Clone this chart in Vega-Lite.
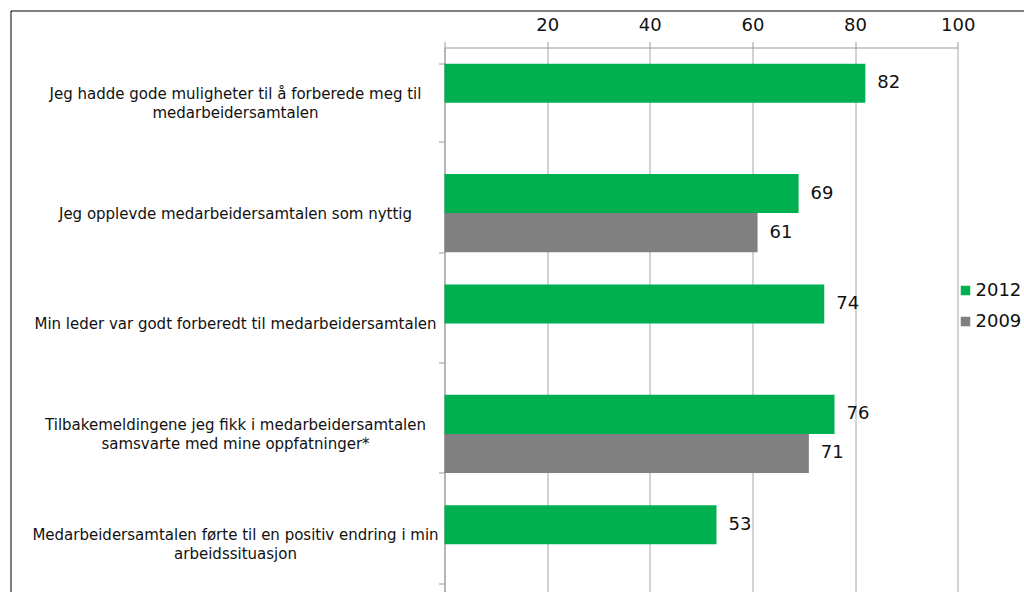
{
  "$schema": "https://vega.github.io/schema/vega-lite/v6.json",
  "width": 1013.5,
  "height": 581.5,
  "autosize": {"type": "none"},
  "padding": {"left": 10.5, "top": 10.5, "right": 0, "bottom": 0},
  "background": "white",
  "config": {
    "view": {"stroke": "#000000", "strokeWidth": 1, "strokeDash": [1013.5, 1595, 581.5]},
    "font": "DejaVu Sans"
  },
  "data": {
    "values": [
      {"question": "Jeg hadde gode muligheter til å forberede meg til|medarbeidersamtalen", "year": "2012", "value": 82},
      {"question": "Jeg opplevde medarbeidersamtalen som nyttig", "year": "2012", "value": 69},
      {"question": "Jeg opplevde medarbeidersamtalen som nyttig", "year": "2009", "value": 61},
      {"question": "Min leder var godt forberedt til medarbeidersamtalen", "year": "2012", "value": 74},
      {"question": "Tilbakemeldingene jeg fikk i medarbeidersamtalen|samsvarte med mine oppfatninger*", "year": "2012", "value": 76},
      {"question": "Tilbakemeldingene jeg fikk i medarbeidersamtalen|samsvarte med mine oppfatninger*", "year": "2009", "value": 71},
      {"question": "Medarbeidersamtalen førte til en positiv endring i min|arbeidssituasjon", "year": "2012", "value": 53}
    ]
  },
  "encoding": {
    "y": {
      "field": "question",
      "type": "nominal",
      "sort": null,
      "scale": {"range": [37, 589], "paddingInner": 0.293, "paddingOuter": 0.1465},
      "axis": {
        "title": null,
        "orient": "left",
        "offset": -434,
        "domainColor": "#9a9a9a",
        "tickColor": "#9a9a9a",
        "tickSize": 6,
        "tickBand": "extent",
        "grid": false,
        "labelAlign": "center",
        "labelBaseline": "middle",
        "labelPadding": 203.5,
        "labelOffset": -9.5,
        "labelFont": "DejaVu Sans",
        "labelFontSize": 15,
        "labelColor": "#111111",
        "labelLineHeight": 9.5,
        "labelLimit": 0,
        "labelExpr": "indexof(datum.label, '|') >= 0 ? [split(datum.label, '|')[0], '\u200b', split(datum.label, '|')[1]] : ['', datum.label]"
      }
    },
    "yOffset": {
      "field": "year",
      "type": "nominal",
      "scale": {"domain": ["2012", "2009"], "paddingInner": 0, "paddingOuter": 0}
    },
    "x": {
      "field": "value",
      "type": "quantitative",
      "scale": {"domain": [0, 100], "range": [434, 947.2], "nice": false},
      "axis": {
        "title": null,
        "orient": "top",
        "offset": -37,
        "values": [0, 20, 40, 60, 80, 100],
        "labelExpr": "datum.value == 0 ? '' : datum.label",
        "labelFlush": false,
        "domainColor": "#9a9a9a",
        "tickColor": "#9a9a9a",
        "gridColor": "#a6a6a6",
        "grid": true,
        "tickSize": 6,
        "labelPadding": 11.5,
        "labelBaseline": "alphabetic",
        "labelFont": "DejaVu Sans",
        "labelFontSize": 18,
        "labelColor": "#111111"
      }
    }
  },
  "layer": [
    {
      "mark": {"type": "bar"},
      "encoding": {
        "color": {
          "field": "year",
          "type": "nominal",
          "scale": {"domain": ["2012", "2009"], "range": ["#00B050", "#808080"]},
          "legend": {
            "title": null,
            "orient": "none",
            "legendX": 946,
            "legendY": 271,
            "symbolType": "square",
            "symbolSize": 90,
            "symbolStrokeWidth": 0,
            "labelFont": "DejaVu Sans",
            "labelFontSize": 18,
            "labelColor": "#111111",
            "labelOffset": 1,
            "rowPadding": 13,
            "padding": 0
          }
        }
      }
    },
    {
      "mark": {"type": "text", "align": "left", "baseline": "middle", "dx": 12, "fontSize": 18, "font": "DejaVu Sans", "color": "#111111"},
      "encoding": {
        "text": {"field": "value", "type": "quantitative"}
      }
    }
  ]
}
